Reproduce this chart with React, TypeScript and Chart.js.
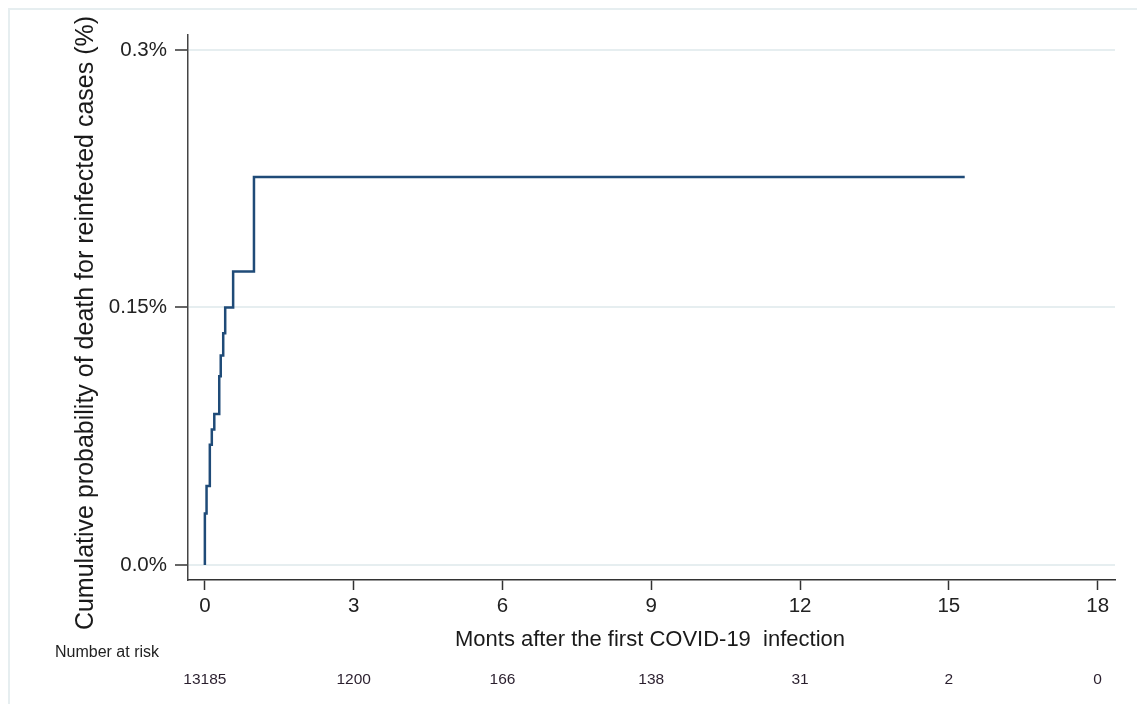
import React, { useEffect, useRef } from 'react';
import { Chart, registerables } from 'chart.js';

Chart.register(...registerables);

// Kaplan-Meier style cumulative probability (%)
const months = [0, 0, 0.034, 0.1, 0.14, 0.19, 0.29, 0.32, 0.37, 0.41, 0.57, 0.99, 15.32];
const cumProb = [0, 0.03, 0.046, 0.07, 0.079, 0.088, 0.11, 0.122, 0.135, 0.15, 0.171, 0.226, 0.226];

const xTicks = [0, 3, 6, 9, 12, 15, 18];
const yTicks = [0, 0.15, 0.3];
const yTickLabels = ['0.0%', '0.15%', '0.3%'];
const atRisk = ['13185', '1200', '166', '138', '31', '2', '0'];

const yTitle = 'Cumulative probability of death for reinfected cases (%)';
const xTitle = 'Monts after the first COVID-19  infection';
const riskLabel = 'Number at risk';

const FONT = "'Liberation Sans', Arial, sans-serif";

export default function App() {
  const ref = useRef<HTMLCanvasElement | null>(null);

  useEffect(() => {
    document.body.style.margin = '0';
    const canvas = ref.current;
    if (!canvas) return;

    const overlay = {
      id: 'overlay',
      afterDraw(chart: any) {
        const ctx = chart.ctx as CanvasRenderingContext2D;
        const xs = chart.scales.x;
        ctx.save();
        // light frame
        ctx.strokeStyle = '#e6eef0';
        ctx.lineWidth = 2;
        ctx.strokeRect(9, 9, 1140, 700);

        // y title
        ctx.fillStyle = '#1a1a1a';
        ctx.font = `25px ${FONT}`;
        ctx.textAlign = 'center';
        ctx.textBaseline = 'alphabetic';
        ctx.save();
        ctx.translate(93, 323);
        ctx.rotate(-Math.PI / 2);
        ctx.fillText(yTitle, 0, 0);
        ctx.restore();

        // x title
        ctx.textBaseline = 'middle';
        ctx.font = `22px ${FONT}`;
        ctx.fillText(xTitle, 650, 640);

        // number at risk
        ctx.font = `16px ${FONT}`;
        ctx.fillStyle = '#222';
        ctx.fillText(riskLabel, 107, 653);
        ctx.font = `15.5px ${FONT}`;
        ctx.fillStyle = '#2a1f2e';
        xTicks.forEach((t, i) => {
          ctx.fillText(atRisk[i], xs.getPixelForValue(t), 680);
        });
        ctx.restore();
      },
    };

    const chart = new Chart(canvas, {
      type: 'line',
      data: {
        datasets: [
          {
            data: months.map((m, i) => ({ x: m, y: cumProb[i] })),
            borderColor: '#1f4b78',
            borderWidth: 2.5,
            pointRadius: 0,
            stepped: 'before',
            fill: false,
          },
        ],
      },
      options: {
        animation: false,
        responsive: true,
        maintainAspectRatio: false,
        layout: { padding: { top: 35, right: 22, bottom: 0, left: 0 } },
        plugins: {
          legend: { display: false },
          tooltip: { enabled: false },
        },
        scales: {
          x: {
            type: 'linear',
            min: -0.34,
            max: 18.35,
            afterFit: (s: any) => {
              s.height = 124;
            },
            afterBuildTicks: (s: any) => {
              s.ticks = xTicks.map((v) => ({ value: v }));
            },
            grid: {
              drawOnChartArea: false,
              drawTicks: true,
              tickLength: 10,
              tickColor: '#333',
              tickWidth: 1.5,
            },
            border: { display: true, color: '#333', width: 1.5 },
            ticks: {
              padding: 4,
              color: '#222',
              font: { size: 20.5, family: FONT },
              maxRotation: 0,
              callback: (v: any) => String(v),
            },
          },
          y: {
            type: 'linear',
            min: -0.0087,
            max: 0.3087,
            afterFit: (s: any) => {
              s.width = 188;
            },
            afterBuildTicks: (s: any) => {
              s.ticks = yTicks.map((v) => ({ value: v }));
            },
            grid: {
              color: '#e6eef0',
              lineWidth: 2,
              drawTicks: true,
              tickLength: 13,
              tickColor: '#333',
              tickWidth: 1.5,
            },
            border: { display: true, color: '#444', width: 1.5 },
            ticks: {
              padding: 8,
              color: '#222',
              font: { size: 20.5, family: FONT },
              callback: (v: any) => {
                const i = yTicks.indexOf(v);
                return i >= 0 ? yTickLabels[i] : '';
              },
            },
          },
        },
      },
      plugins: [overlay],
    });

    return () => chart.destroy();
  }, []);

  return (
    <div style={{ position: 'relative', width: 1137, height: 704, background: '#fff' }}>
      <canvas ref={ref} />
    </div>
  );
}
